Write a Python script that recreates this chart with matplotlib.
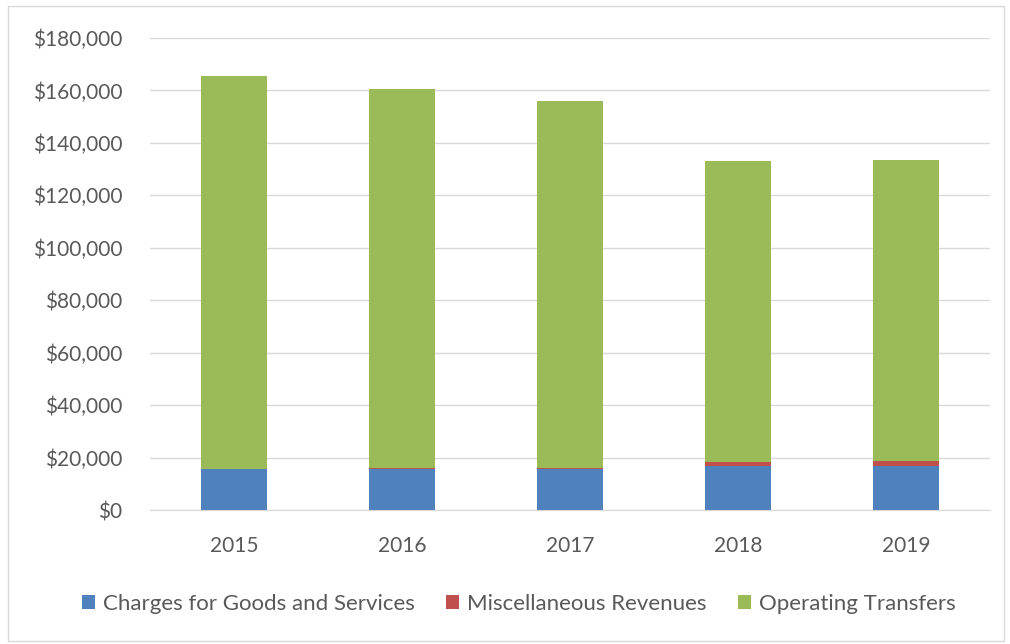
import matplotlib.pyplot as plt
import matplotlib.patches as patches
import numpy as np

# datos
anos = ["2015", "2016", "2017", "2018", "2019"]
charges = [15500, 15500, 15500, 16700, 16700]
misc = [0, 600, 600, 1600, 2100]
transfers = [150000, 144400, 140000, 114700, 114700]

cores = ["#4F81BD", "#C0504D", "#9BBB59"]
nomes = ["Charges for Goods and Services", "Miscellaneous Revenues", "Operating Transfers"]

plt.rcParams['font.family'] = ['Lato', 'DejaVu Sans']

fig = plt.figure(figsize=(10.1, 6.44), dpi=100)
ax = fig.add_axes([0.1485, 0.208, 0.8315, 0.733])

x = np.arange(len(anos))
base = np.zeros(len(anos))
for vals, cor, nome in zip([charges, misc, transfers], cores, nomes):
    ax.bar(x, vals, 0.39, bottom=base, color=cor, label=nome, zorder=3)
    base = base + np.array(vals)

ax.set_xlim(-0.5, 4.5)
ax.set_ylim(0, 180000)
ax.set_yticks(np.arange(0, 180001, 20000))
ax.set_yticklabels(["${:,.0f}".format(v) for v in np.arange(0, 180001, 20000)])
ax.set_xticks(x)
ax.set_xticklabels(anos)
ax.grid(axis='y', color='#D9D9D9', lw=1, zorder=0)
for s in ['top', 'right', 'left']:
    ax.spines[s].set_visible(False)
ax.spines['bottom'].set_color('#D9D9D9')
ax.tick_params(length=0, labelsize=15, colors='#595959')
ax.tick_params(axis='y', pad=20)
ax.tick_params(axis='x', pad=19)

ax.legend(loc='center', bbox_to_anchor=(0.439, -0.199), ncol=3, frameon=False,
          fontsize=16, handlelength=0.6, handleheight=0.6, handletextpad=0.35, columnspacing=1.4,
          labelcolor='#595959')

# borda do grafico
fig.patches.append(patches.Rectangle((0.008, 0.005), 0.986, 0.985, transform=fig.transFigure,
                                     fill=False, edgecolor='#D9D9D9', lw=1))

fig.savefig("out.png", dpi=100)
